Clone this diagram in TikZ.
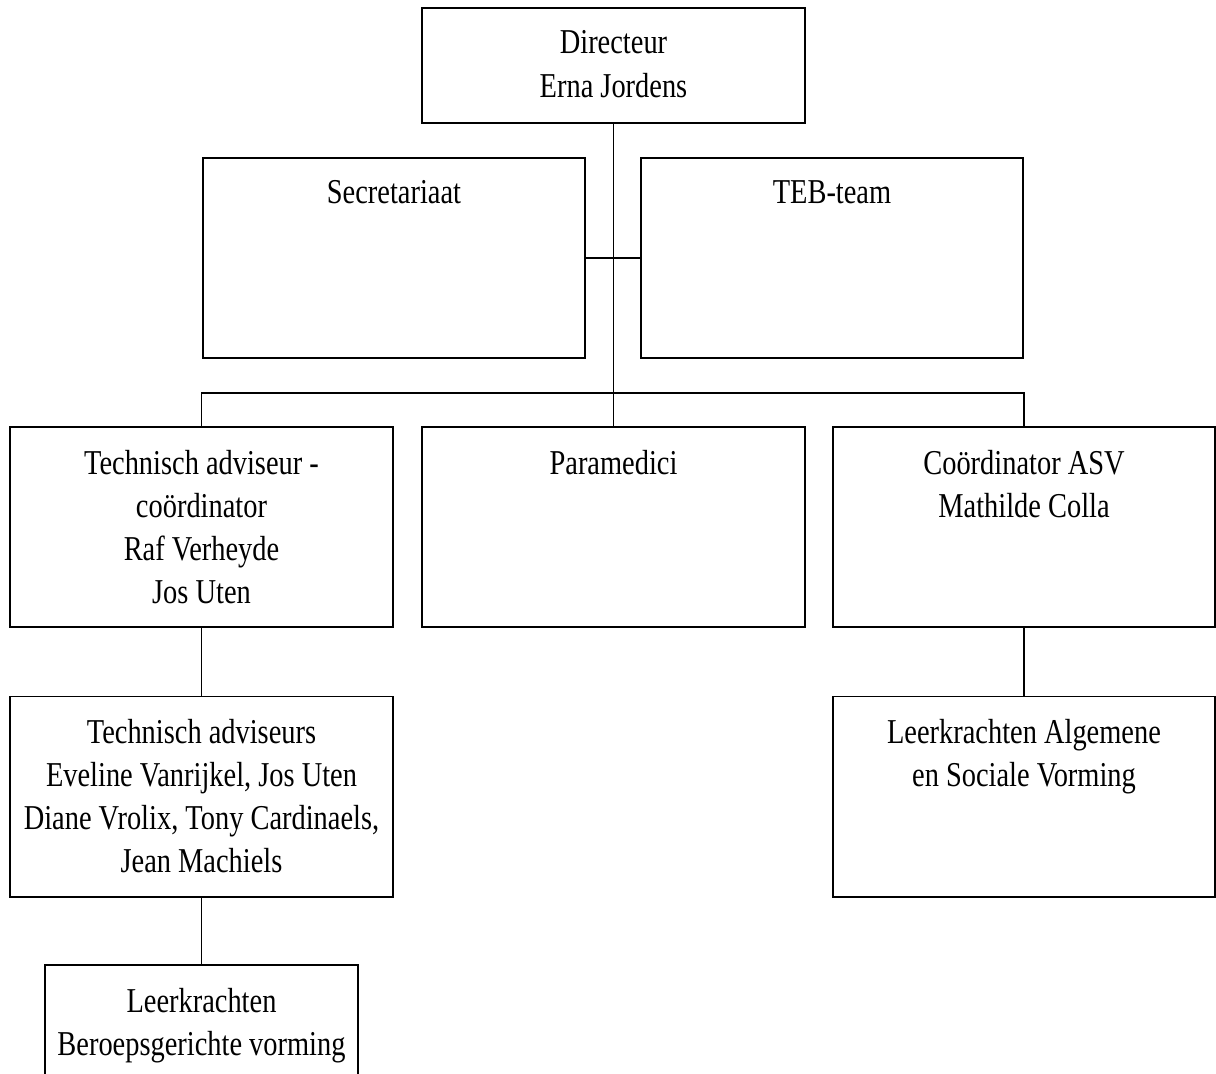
\documentclass[tikz,border=0pt]{standalone}
\usepackage{fontspec}
\setmainfont{Liberation Serif}[FakeStretch=0.815]
\usetikzlibrary{positioning}
\tikzset{
    orgnode/.style = {rectangle, line width=1.4pt, draw=black, fill=white, minimum width=9.55cm, minimum height=5cm},
    orgtop/.style = {orgnode, minimum height=2.875cm},
    orgsmall/.style = {orgnode, minimum width=7.8cm, minimum height=3.25cm},
    orgtext/.style = {anchor=north, yshift=-0.59cm, inner sep=0pt, align=center, font=\fontsize{24.8}{30.6}\selectfont, text=black},
    edgen/.style = {-, line width=1.4pt, black}
}

\begin{document}
\begin{tikzpicture}[x=0.025cm, y=-0.025cm]
\clip (0,0) rectangle (1216,1073);

\node[orgtop, label={[orgtext]north:{Directeur\\Erna Jordens}}] at (613.5, 65.5) (dir) {};
\node[orgnode, label={[orgtext]north:{Secretariaat}}] at (394, 258) (sec) {};
\node[orgnode, label={[orgtext]north:{TEB-team}}] at (832, 258) (teb) {};

\node[orgnode, label={[orgtext]north:{Technisch adviseur -\\coördinator\\Raf Verheyde\\Jos Uten}}] at (201.5, 527) (tac) {};
\node[orgnode, label={[orgtext]north:{Paramedici}}] at (613.5, 527) (para) {};
\node[orgnode, label={[orgtext]north:{Coördinator ASV\\Mathilde Colla}}] at (1024, 527) (asv) {};

\node[orgnode, label={[orgtext]north:{Technisch adviseurs\\Eveline Vanrijkel, Jos Uten\\Diane Vrolix, Tony Cardinaels,\\Jean Machiels}}] at (201.5, 796.5) (tas) {};
\node[orgnode, label={[orgtext]north:{Leerkrachten Algemene\\en Sociale Vorming}}] at (1024, 796.5) (lav) {};
\node[orgsmall, label={[orgtext]north:{Leerkrachten\\Beroepsgerichte vorming}}] at (201.5, 1030) (lbv) {};

\coordinate (bus) at (613.5, 393);

\draw[edgen] (dir) -- (para);
\draw[edgen] (sec) -- (teb);
\draw[edgen] (tac.north) |- (bus) -| (asv.north);
\draw[edgen] (tac) -- (tas);
\draw[edgen] (tas) -- (lbv);
\draw[edgen] (asv) -- (lav);

\end{tikzpicture}
\end{document}
